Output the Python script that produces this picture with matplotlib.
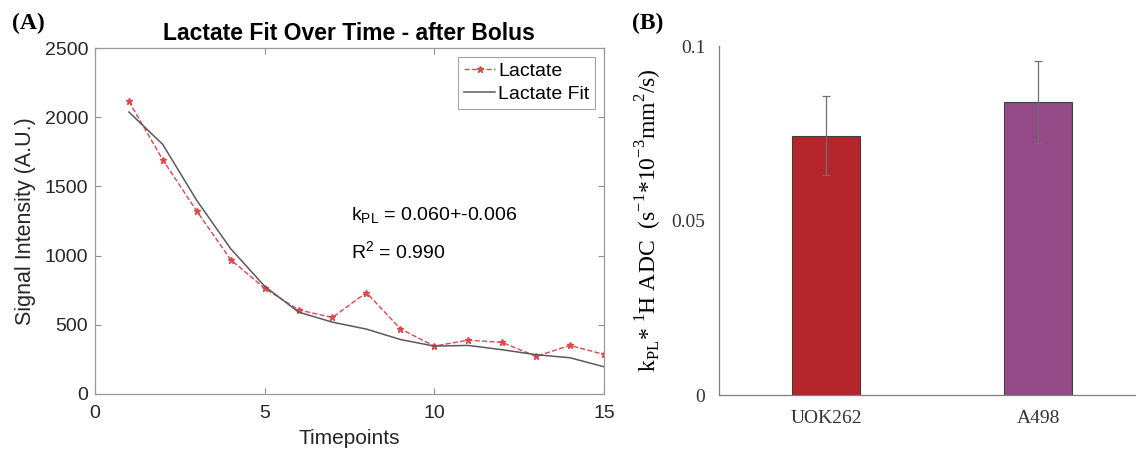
"""
乳酸の時間変化フィット (A) と kPL*ADC の棒グラフ (B)
"""

import matplotlib
matplotlib.use('Agg')
import matplotlib.pyplot as plt
import numpy as np

# (A) 乳酸シグナルとフィット
timepoints = list(range(1, 16))
lactate = [2115, 1692, 1322, 971, 764, 608, 553, 733, 471, 346, 389, 373, 272, 351, 286]
lactate_fit = [2038, 1803, 1399, 1050, 779, 592, 519, 469, 394, 346, 351, 320, 284, 262, 197]

# (B) 細胞株ごとの kPL * 1H ADC
cell_lines = ['UOK262', 'A498']
kpl_adc = [0.0743, 0.0840]
kpl_adc_err = [0.0113, 0.0118]
bar_colors = ['#B5252C', '#934A86']

SANS = 'Liberation Sans'
SERIF = 'Liberation Serif'

fig = plt.figure(figsize=(11.36, 4.51), dpi=100)

# ---- (A) ----
ax1 = fig.add_axes([0.0836, 0.1264, 0.448, 0.767])
ax1.plot(timepoints, lactate, linestyle='--', color='#E0474C', linewidth=1.0,
         marker='*', markersize=5, label='Lactate')
ax1.plot(timepoints, lactate_fit, linestyle='-', color='#5A5A5A', linewidth=1.1,
         label='Lactate Fit')
ax1.set_xlim(0, 15)
ax1.set_ylim(0, 2500)
ax1.set_xticks([0, 5, 10, 15])
ax1.set_yticks([0, 500, 1000, 1500, 2000, 2500])
ax1.tick_params(direction='in', top=True, right=True, length=4, color='#909090',
                labelsize=14, labelcolor='#262626')
ax1.tick_params(axis='x', pad=8)
ax1.tick_params(axis='y', pad=5)
for lbl in ax1.get_xticklabels() + ax1.get_yticklabels():
    lbl.set_family(SANS)
for sp in ax1.spines.values():
    sp.set_color('#9A9A9A')
    sp.set_linewidth(0.9)
ax1.set_xlabel('Timepoints', fontsize=15, family=SANS, color='#262626', labelpad=5)
ax1.set_ylabel('Signal Intensity (A.U.)', fontsize=15.5, family=SANS, color='#262626',
               labelpad=6)
ax1.set_title('Lactate Fit Over Time - after Bolus', fontsize=16.5, fontweight='bold',
              family=SANS, pad=6)
ax1.text(7.55, 1290, r'k$_\mathregular{PL}$ = 0.060+-0.006', fontsize=14,
         family=SANS, va='center')
ax1.text(7.55, 1030, r'R$^\mathregular{2}$ = 0.990', fontsize=14,
         family=SANS, va='center')
leg = ax1.legend(loc='upper right', prop={'family': SANS, 'size': 14},
                 fancybox=False, edgecolor='#8C8C8C', handlelength=1.6,
                 handletextpad=0.15, borderpad=0.3, labelspacing=0.25,
                 borderaxespad=0.45)
leg.get_frame().set_linewidth(0.8)

fig.text(0.011, 0.947, '(A)', fontsize=17, fontweight='bold', family=SERIF, va='center')

# ---- (B) ----
ax2 = fig.add_axes([0.633, 0.124, 0.367, 0.774])
x = np.arange(len(cell_lines))
ax2.bar(x, kpl_adc, width=0.32, color=bar_colors, edgecolor='#404040', linewidth=0.8,
        yerr=kpl_adc_err, error_kw=dict(ecolor='#707070', elinewidth=0.9, capsize=3,
                                        capthick=0.9))
ax2.set_xlim(-0.505, 1.462)
ax2.set_ylim(0, 0.1)
ax2.set_yticks([0, 0.05, 0.1])
ax2.set_yticklabels(['0', '0.05', '0.1'])
ax2.set_xticks(x)
ax2.set_xticklabels(cell_lines)
ax2.tick_params(length=0, labelsize=14, labelcolor='#333333')
ax2.tick_params(axis='y', pad=10)
ax2.tick_params(axis='x', pad=11)
for lbl in ax2.get_xticklabels() + ax2.get_yticklabels():
    lbl.set_family(SERIF)
for side in ['top', 'right']:
    ax2.spines[side].set_visible(False)
for side in ['left', 'bottom']:
    ax2.spines[side].set_color('#7F7F7F')
    ax2.spines[side].set_linewidth(0.9)
ax2.set_ylabel(r'k$_\mathregular{PL}$* $^\mathregular{1}$H ADC  '
               r'(s$^\mathregular{-1}$*10$^\mathregular{-3}$mm$^\mathregular{2}$/s)',
               fontsize=17, family=SERIF, labelpad=5)

fig.text(0.556, 0.947, '(B)', fontsize=17, fontweight='bold', family=SERIF, va='center')

fig.savefig('out.png', dpi=100)
